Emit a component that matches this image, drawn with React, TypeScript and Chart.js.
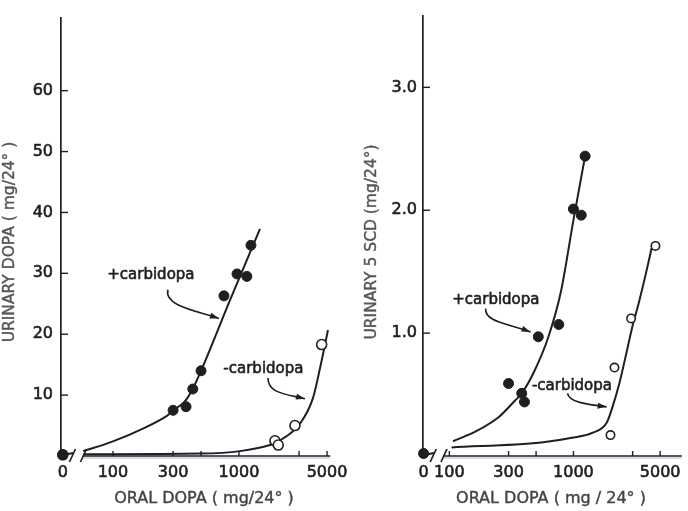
import React, { useEffect, useRef } from 'react';
import { Chart, registerables } from 'chart.js';

Chart.register(...registerables);

// ---------------- data ----------------
// x-axis labels / marks (oral dopa, mg/24h; 0 sits before the axis break)
const X_LABEL_DOSES = [0, 100, 300, 1000, 5000];
const X_LABELS = ['0', '100', '300', '1000', '5000'];
const X_MARK_DOSES = [100, 300, 500, 1000, 3000, 5000];

// Left panel: urinary DOPA (mg/24h)
const Y_TICKS_LEFT = [10, 20, 30, 40, 50, 60];
const LEFT_PLUS_DOSE = [0, 300, 380, 430, 500, 760, 965, 1155, 1245];
const LEFT_PLUS_VALUE = [0.2, 7.5, 8.1, 11.0, 14.0, 26.3, 29.9, 29.5, 34.6];
const LEFT_MINUS_DOSE = [0, 1930, 2050, 2780, 4530];
const LEFT_MINUS_VALUE = [0.2, 2.5, 1.8, 5.0, 18.3];
// hand-drawn fitted curves
const LEFT_PLUS_CURVE_DOSE = [58, 100, 173, 268, 322, 373, 431, 500, 849, 1468];
const LEFT_PLUS_CURVE_VALUE = [0.8, 2.4, 4.5, 6.6, 7.9, 9.0, 11.1, 14.0, 25.6, 37.3];
const LEFT_MINUS_CURVE_DOSE = [58, 490, 1019, 1762, 2004, 3048, 3864, 4395, 4818, 5084];
const LEFT_MINUS_CURVE_VALUE = [0.3, 0.4, 0.8, 1.8, 2.3, 5.3, 9.5, 14.4, 18.3, 20.7];

// Right panel: urinary 5 SCD (mg/24h)
const Y_TICKS_RIGHT = [1, 2, 3];
const RIGHT_PLUS_DOSE = [0, 300, 383, 403, 521, 762, 1000, 1156, 1242];
const RIGHT_PLUS_VALUE = [0.02, 0.59, 0.51, 0.44, 0.97, 1.07, 2.01, 1.96, 2.44];
const RIGHT_MINUS_DOSE = [0, 1990, 2143, 2918, 4582];
const RIGHT_MINUS_VALUE = [0.02, 0.17, 0.72, 1.12, 1.71];
const RIGHT_PLUS_CURVE_DOSE = [107, 163, 252, 337, 383, 484, 624, 790, 1000, 1242];
const RIGHT_PLUS_CURVE_VALUE = [0.12, 0.2, 0.32, 0.45, 0.51, 0.69, 0.96, 1.33, 1.92, 2.44];
const RIGHT_MINUS_CURVE_DOSE = [104, 550, 1000, 1436, 1853, 2066, 2344, 2663, 2966, 3370, 3829, 4265];
const RIGHT_MINUS_CURVE_VALUE = [0.07, 0.11, 0.15, 0.19, 0.27, 0.4, 0.59, 0.83, 1.04, 1.25, 1.48, 1.69];

const INK = '#1f1f1f';
const FONT = '"DejaVu Sans", sans-serif';

type Ann = { text: string; at: [number, number]; path: [number, number][] };
type PanelCfg = {
  canvasWidth: number;
  padTop: number;
  padRight: number;
  yWidth: number;
  yPad: number;
  xMin: number;
  xMax: number;
  yMax: number;
  zeroAt: number;
  break1: number;
  break2: number;
  axisEnd: number;
  yTicks: number[];
  yFmt: (v: number) => string;
  plusDose: number[];
  plusVal: number[];
  minusDose: number[];
  minusVal: number[];
  plusCurveDose: number[];
  plusCurveVal: number[];
  minusCurveDose: number[];
  minusCurveVal: number[];
  openRadius: number;
  yTitle: string;
  yTitlePos: [number, number];
  xTitle: string;
  xTitlePos: [number, number];
  anns: Ann[];
};

const LEFT: PanelCfg = {
  canvasWidth: 370,
  padTop: 10,
  padRight: 34,
  yWidth: 61,
  yPad: 8,
  xMin: 38.7,
  xMax: 5888,
  yMax: 72,
  zeroAt: 40,
  break1: 47.7,
  break2: 58.4,
  axisEnd: 5300,
  yTicks: Y_TICKS_LEFT,
  yFmt: (v) => String(v),
  plusDose: LEFT_PLUS_DOSE,
  plusVal: LEFT_PLUS_VALUE,
  minusDose: LEFT_MINUS_DOSE,
  minusVal: LEFT_MINUS_VALUE,
  plusCurveDose: LEFT_PLUS_CURVE_DOSE,
  plusCurveVal: LEFT_PLUS_CURVE_VALUE,
  minusCurveDose: LEFT_MINUS_CURVE_DOSE,
  minusCurveVal: LEFT_MINUS_CURVE_VALUE,
  openRadius: 5,
  yTitle: 'URINARY DOPA ( mg/24° )',
  yTitlePos: [10, 242],
  xTitle: 'ORAL DOPA ( mg/24° )',
  xTitlePos: [204, 499],
  anns: [
    { text: '+carbidopa', at: [200, 29.7], path: [[273, 27.3], [254, 24.7], [448, 23.9], [693, 22.6]] },
    { text: '-carbidopa', at: [1563, 14.2], path: [[1698, 12.8], [1698, 10.3], [2317, 10.2], [3342, 9.4]] },
  ],
};

const RIGHT: PanelCfg = {
  canvasWidth: 344,
  padTop: 8,
  padRight: 0,
  yWidth: 79,
  yPad: 6,
  xMin: 61.3,
  xMax: 7480,
  yMax: 3.584,
  zeroAt: 62,
  break1: 74.1,
  break2: 90.5,
  axisEnd: 7480,
  yTicks: Y_TICKS_RIGHT,
  yFmt: (v) => v.toFixed(1),
  plusDose: RIGHT_PLUS_DOSE,
  plusVal: RIGHT_PLUS_VALUE,
  minusDose: RIGHT_MINUS_DOSE,
  minusVal: RIGHT_MINUS_VALUE,
  plusCurveDose: RIGHT_PLUS_CURVE_DOSE,
  plusCurveVal: RIGHT_PLUS_CURVE_VALUE,
  minusCurveDose: RIGHT_MINUS_CURVE_DOSE,
  minusCurveVal: RIGHT_MINUS_CURVE_VALUE,
  openRadius: 4.2,
  yTitle: 'URINARY 5 SCD (mg/24°)',
  yTitlePos: [28, 242],
  xTitle: 'ORAL DOPA ( mg / 24° )',
  xTitlePos: [207, 499],
  anns: [
    { text: '+carbidopa', at: [237, 1.27], path: [[196, 1.2], [192, 1.09], [297, 1.08], [451, 1.01]] },
    { text: '-carbidopa', at: [973, 0.57], path: [[897, 0.51], [914, 0.44], [1265, 0.42], [1853, 0.4]] },
  ],
};

function pts(cfg: PanelCfg, dose: number[], val: number[]) {
  return dose.map((d, i) => ({ x: d === 0 ? cfg.zeroAt : d, y: val[i] }));
}

function makeDecor(cfg: PanelCfg) {
  return {
    id: 'decor',
    beforeDatasetsDraw(chart: any) {
      const ctx: CanvasRenderingContext2D = chart.ctx;
      const xs = chart.scales.x;
      const ys = chart.scales.y;
      const { bottom, left } = chart.chartArea;
      const b1 = xs.getPixelForValue(cfg.break1);
      const b2 = xs.getPixelForValue(cfg.break2);
      const end = xs.getPixelForValue(cfg.axisEnd);
      const z = xs.getPixelForValue(cfg.zeroAt);
      ctx.save();
      // faint blue print line under the axis
      ctx.strokeStyle = 'rgba(95,135,190,0.55)';
      ctx.lineWidth = 1;
      ctx.beginPath();
      ctx.moveTo(b2, bottom + 2);
      ctx.lineTo(end, bottom + 2);
      ctx.stroke();
      // x axis line after the break
      ctx.strokeStyle = INK;
      ctx.lineWidth = 1.7;
      ctx.beginPath();
      ctx.moveTo(b2, bottom);
      ctx.lineTo(end, bottom);
      ctx.stroke();
      // x tick marks (pointing up)
      ctx.lineWidth = 1.4;
      X_MARK_DOSES.forEach((d) => {
        const p = xs.getPixelForValue(d);
        ctx.beginPath();
        ctx.moveTo(p, bottom);
        ctx.lineTo(p, bottom - 5);
        ctx.stroke();
      });
      // y tick marks
      cfg.yTicks.forEach((v) => {
        const p = ys.getPixelForValue(v);
        ctx.beginPath();
        ctx.moveTo(left - 1, p);
        ctx.lineTo(left + 7, p);
        ctx.stroke();
      });
      // break marks
      ctx.lineWidth = 1.7;
      [b1, b2].forEach((p) => {
        ctx.beginPath();
        ctx.moveTo(p - 3, bottom + 6);
        ctx.lineTo(p + 3, bottom - 7);
        ctx.stroke();
      });
      // stub from the zero point to the break
      ctx.lineWidth = 2.2;
      ctx.beginPath();
      ctx.moveTo(z, bottom - 1);
      ctx.lineTo(b1 + 1, bottom - 3);
      ctx.stroke();
      ctx.restore();
    },
    afterDraw(chart: any) {
      const ctx: CanvasRenderingContext2D = chart.ctx;
      const xs = chart.scales.x;
      const ys = chart.scales.y;
      ctx.save();
      ctx.fillStyle = INK;
      ctx.strokeStyle = INK;
      ctx.font = `15px ${FONT}`;
      ctx.textAlign = 'center';
      ctx.textBaseline = 'middle';
      cfg.anns.forEach((a) => {
        const tx = xs.getPixelForValue(a.at[0]);
        const ty = ys.getPixelForValue(a.at[1]);
        ctx.lineWidth = 0.6;
        ctx.fillText(a.text, tx, ty);
        ctx.strokeText(a.text, tx, ty);
        const P = a.path.map(([d, v]) => [xs.getPixelForValue(d), ys.getPixelForValue(v)]);
        ctx.lineWidth = 1.6;
        ctx.beginPath();
        ctx.moveTo(P[0][0], P[0][1]);
        ctx.bezierCurveTo(P[1][0], P[1][1], P[2][0], P[2][1], P[3][0], P[3][1]);
        ctx.stroke();
        const ang = Math.atan2(P[3][1] - P[2][1], P[3][0] - P[2][0]);
        const L = 9, W = 3;
        ctx.beginPath();
        ctx.moveTo(P[3][0], P[3][1]);
        ctx.lineTo(P[3][0] - L * Math.cos(ang) + W * Math.sin(ang), P[3][1] - L * Math.sin(ang) - W * Math.cos(ang));
        ctx.lineTo(P[3][0] - L * Math.cos(ang) - W * Math.sin(ang), P[3][1] - L * Math.sin(ang) + W * Math.cos(ang));
        ctx.closePath();
        ctx.fill();
      });
      // axis titles
      ctx.fillStyle = '#555';
      ctx.strokeStyle = '#555';
      ctx.lineWidth = 0.4;
      ctx.font = `15.5px ${FONT}`;
      ctx.save();
      ctx.translate(cfg.yTitlePos[0], cfg.yTitlePos[1]);
      ctx.rotate(-Math.PI / 2);
      ctx.fillText(cfg.yTitle, 0, 0);
      ctx.strokeText(cfg.yTitle, 0, 0);
      ctx.restore();
      ctx.fillStyle = '#444';
      ctx.strokeStyle = '#444';
      ctx.font = `16px ${FONT}`;
      ctx.fillText(cfg.xTitle, cfg.xTitlePos[0], cfg.xTitlePos[1]);
      ctx.strokeText(cfg.xTitle, cfg.xTitlePos[0], cfg.xTitlePos[1]);
      ctx.restore();
    },
  };
}

function buildConfig(cfg: PanelCfg): any {
  const curveStyle = {
    showLine: true,
    pointRadius: 0,
    borderColor: INK,
    borderWidth: 2,
    cubicInterpolationMode: 'monotone',
    fill: false,
    clip: false,
  };
  const tickFont = { family: FONT, size: 16 };
  return {
    type: 'scatter',
    data: {
      datasets: [
        {
          label: '+carbidopa',
          data: pts(cfg, cfg.plusDose, cfg.plusVal),
          pointRadius: 5,
          pointBackgroundColor: INK,
          pointBorderColor: INK,
          pointBorderWidth: 1,
          clip: false,
        },
        {
          label: '-carbidopa',
          data: pts(cfg, cfg.minusDose, cfg.minusVal),
          pointRadius: cfg.openRadius,
          pointBackgroundColor: '#ffffff',
          pointBorderColor: INK,
          pointBorderWidth: 1.6,
          clip: false,
        },
        { label: '+carbidopa fit', data: pts(cfg, cfg.plusCurveDose, cfg.plusCurveVal), ...curveStyle },
        { label: '-carbidopa fit', data: pts(cfg, cfg.minusCurveDose, cfg.minusCurveVal), ...curveStyle },
      ],
    },
    options: {
      animation: false,
      responsive: false,
      devicePixelRatio: 1,
      layout: { padding: { left: 0, top: cfg.padTop, right: cfg.padRight, bottom: 0 } },
      plugins: { legend: { display: false }, tooltip: { enabled: false } },
      scales: {
        x: {
          type: 'logarithmic',
          min: cfg.xMin,
          max: cfg.xMax,
          afterBuildTicks: (s: any) => {
            s.ticks = X_LABEL_DOSES.map((d) => ({ value: d === 0 ? cfg.zeroAt : d }));
          },
          afterFit: (s: any) => {
            s.height = 55;
          },
          grid: { display: false, drawTicks: false },
          border: { display: false },
          ticks: {
            autoSkip: false,
            maxRotation: 0,
            padding: 7,
            color: INK,
            textStrokeColor: INK,
            textStrokeWidth: 0.6,
            font: tickFont,
            callback: (_v: any, i: number) => X_LABELS[i],
          },
        },
        y: {
          type: 'linear',
          min: 0,
          max: cfg.yMax,
          afterBuildTicks: (s: any) => {
            s.ticks = cfg.yTicks.map((v) => ({ value: v }));
          },
          afterFit: (s: any) => {
            s.width = cfg.yWidth;
          },
          grid: { display: false, drawTicks: false },
          border: { display: true, color: INK, width: 1.7 },
          ticks: {
            padding: cfg.yPad,
            color: INK,
            textStrokeColor: INK,
            textStrokeWidth: 0.6,
            font: tickFont,
            callback: (v: any) => cfg.yFmt(Number(v)),
          },
        },
      },
    },
    plugins: [makeDecor(cfg)],
  };
}

function Panel({ cfg, left }: { cfg: PanelCfg; left: number }) {
  const ref = useRef<HTMLCanvasElement>(null);
  useEffect(() => {
    if (!ref.current) return;
    const chart = new Chart(ref.current, buildConfig(cfg));
    return () => chart.destroy();
  }, [cfg]);
  return (
    <canvas
      ref={ref}
      width={cfg.canvasWidth}
      height={511}
      style={{ position: 'absolute', left, top: 0, width: cfg.canvasWidth, height: 511 }}
    />
  );
}

export default function App() {
  return (
    <div style={{ position: 'fixed', left: 0, top: 0, width: 688, height: 511, background: '#ffffff', overflow: 'hidden' }}>
      <Panel cfg={LEFT} left={0} />
      <Panel cfg={RIGHT} left={344} />
    </div>
  );
}
